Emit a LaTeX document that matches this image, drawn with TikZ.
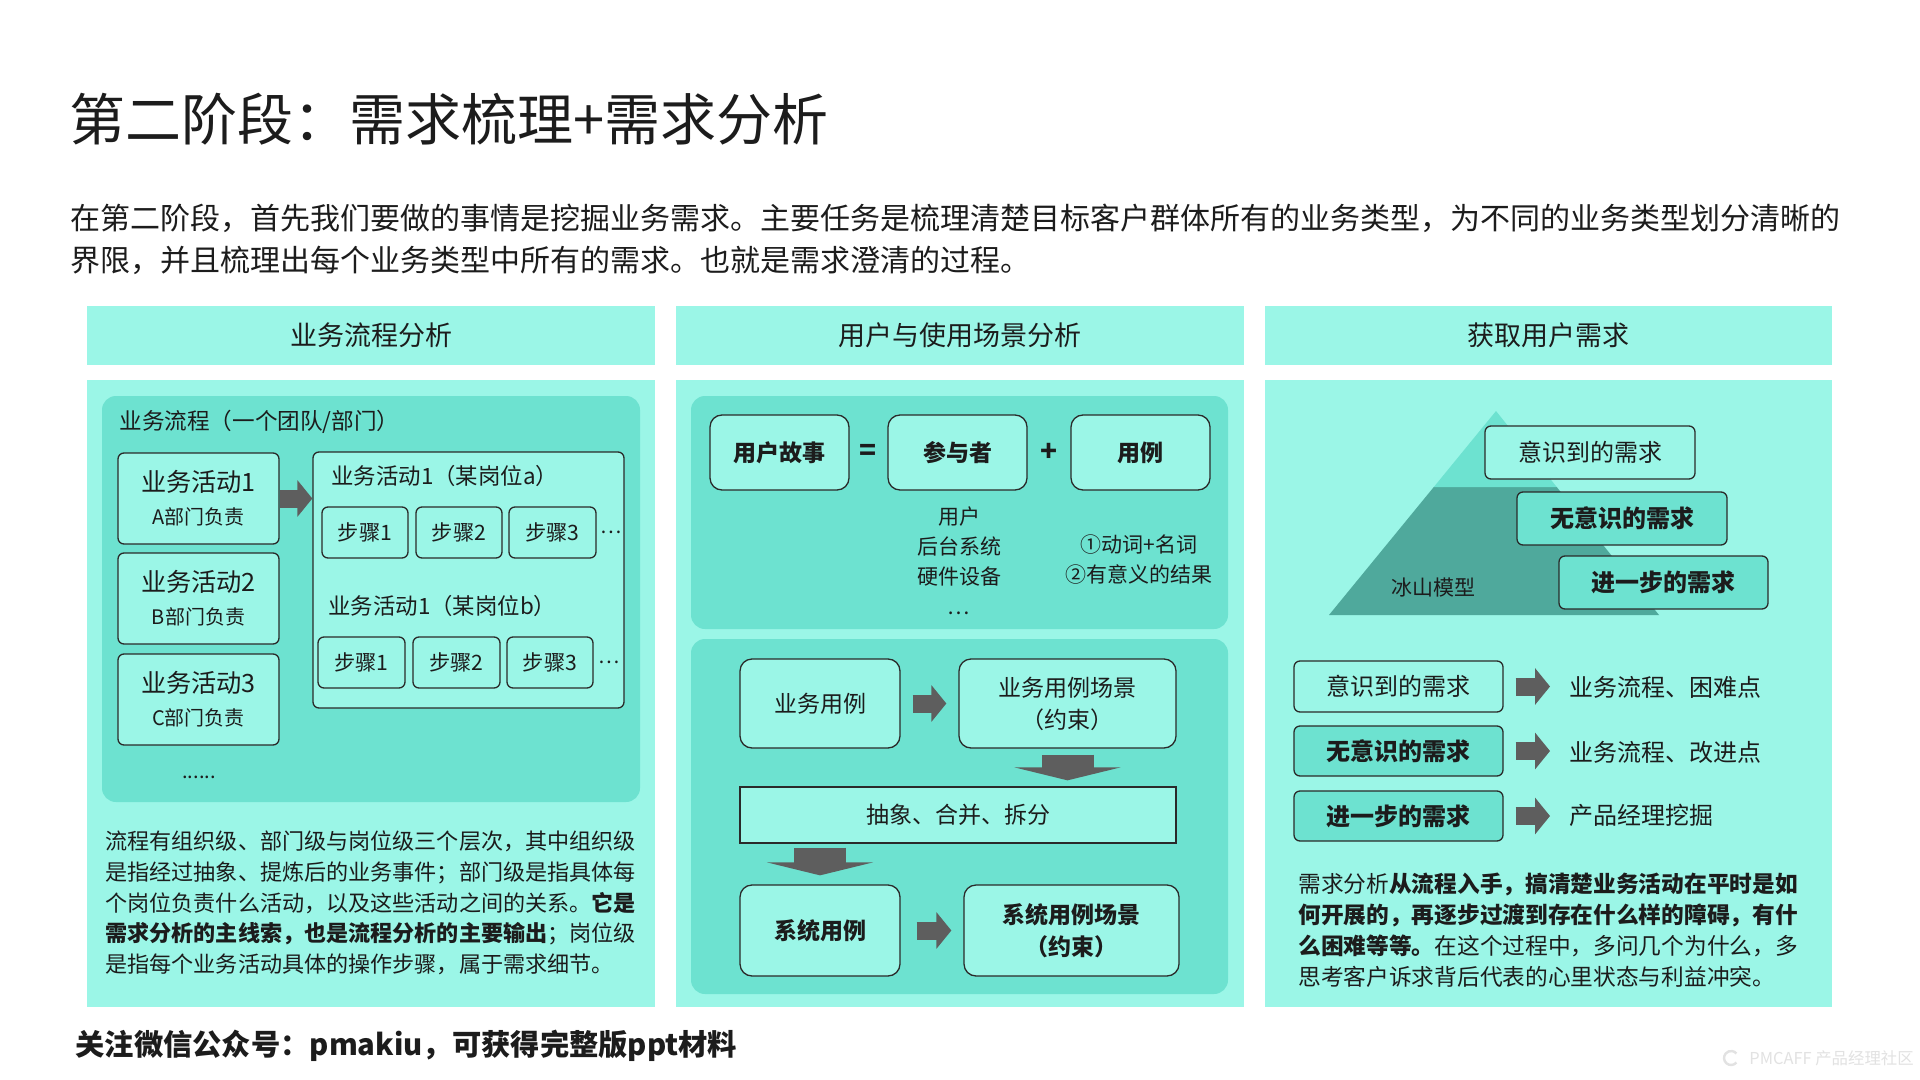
\documentclass[tikz,border=0pt]{standalone}
\usepackage{fontspec}
\setmainfont{Noto Sans CJK SC}
\usetikzlibrary{arrows.meta}
\definecolor{lt}{HTML}{9BF6E7}
\definecolor{md}{HTML}{6DE2D0}
\definecolor{dk}{HTML}{4FA99C}
\definecolor{ag}{HTML}{5E5E5E}
\definecolor{bd}{HTML}{2A2A2A}
\definecolor{txt}{HTML}{1C1C1C}
\definecolor{wmc}{HTML}{E2E2E2}
\newcommand\fz[2]{\fontsize{#1}{#2}\selectfont}
\tikzset{
  every node/.style={text=txt, inner sep=0pt},
  hdr/.style={fill=lt, font=\fz{13.5}{16}},
  panel/.style={fill=lt},
  innerp/.style={fill=md, rounded corners=7pt},
  rbox/.style={draw=bd, line width=0.65pt, rounded corners=3pt, fill=lt, align=center},
  sbox/.style={draw=bd, line width=0.65pt, rounded corners=6pt, fill=lt, align=center},
  harrow/.style={draw=ag, line width=9pt, -{Triangle[width=18pt,length=7.5pt]}},
  varrow/.style={draw=ag, line width=26pt, -{Triangle[width=53pt,length=6.5pt]}},
}
\begin{document}
\begin{tikzpicture}[x=0.5pt,y=-0.5pt]
\useasboundingbox (0,0) rectangle (1920,1080);
\fill[white] (0,0) rectangle (1920,1080);

% title and intro
\node[anchor=west, font=\fz{28}{34}] (title) at (69,119) {第二阶段：需求梳理+需求分析};
\node[anchor=west, align=left, font=\fz{15}{21}] (intro) at (70,239)
  {在第二阶段，首先我们要做的事情是挖掘业务需求。主要任务是梳理清楚目标客户群体所有的业务类型，为不同的业务类型划分清晰的\\
   界限，并且梳理出每个业务类型中所有的需求。也就是需求澄清的过程。};

% headers
\node[hdr, minimum width=284pt, minimum height=29.5pt] (h1) at (371,335.5) {业务流程分析};
\node[hdr, minimum width=284pt, minimum height=29.5pt] (h2) at (960,335.5) {用户与使用场景分析};
\node[hdr, minimum width=283.5pt, minimum height=29.5pt] (h3) at (1548.5,335.5) {获取用户需求};

% body panels
\node[panel, minimum width=284pt, minimum height=313.5pt] (b1) at (371,693.5) {};
\node[panel, minimum width=284pt, minimum height=313.5pt] (b2) at (960,693.5) {};
\node[panel, minimum width=283.5pt, minimum height=313.5pt] (b3) at (1548.5,693.5) {};

% ---------- column 1 ----------
\node[innerp, minimum width=269pt, minimum height=203pt] (i1) at (371,599) {};
\node[anchor=west, font=\fz{11.3}{14}] (l1) at (119,422) {业务流程（一个团队/部门）};
\node[rbox, minimum width=80.5pt, minimum height=45.5pt, font=\fz{12.6}{16.5}] (a1) at (198.5,498.5)
  {业务活动1\\{\fz{10}{16.5}A部门负责}};
\node[rbox, minimum width=80.5pt, minimum height=45.5pt, font=\fz{12.6}{16.5}] (a2) at (198.5,598.5)
  {业务活动2\\{\fz{10}{16.5}B部门负责}};
\node[rbox, minimum width=80.5pt, minimum height=45.5pt, font=\fz{12.6}{16.5}] (a3) at (198.5,699.5)
  {业务活动3\\{\fz{10}{16.5}C部门负责}};
\node[rbox, minimum width=155.5pt, minimum height=128pt] (big) at (468.5,580) {};
\draw[harrow] (a1.east) -- (big.west |- a1.east);
\node[anchor=west, font=\fz{11.2}{14}] (la) at (331,476) {业务活动1（某岗位a）};
\node[rbox, minimum width=43pt, minimum height=25.5pt, font=\fz{10.6}{13}] (sa1) at (365,532.5) {步骤1};
\node[rbox, minimum width=43pt, minimum height=25.5pt, font=\fz{10.6}{13}] (sa2) at (459,532.5) {步骤2};
\node[rbox, minimum width=43.5pt, minimum height=25.5pt, font=\fz{10.6}{13}] (sa3) at (552.5,532.5) {步骤3};
\node[anchor=west, font=\fz{10}{12}] (da) at (600,532.5) {…};
\node[anchor=west, font=\fz{11.2}{14}] (lb) at (328,606) {业务活动1（某岗位b）};
\node[rbox, minimum width=43.5pt, minimum height=25.5pt, font=\fz{10.6}{13}] (sb1) at (361.5,662.5) {步骤1};
\node[rbox, minimum width=43.5pt, minimum height=25.5pt, font=\fz{10.6}{13}] (sb2) at (456.5,662.5) {步骤2};
\node[rbox, minimum width=43pt, minimum height=25.5pt, font=\fz{10.6}{13}] (sb3) at (550,662.5) {步骤3};
\node[anchor=west, font=\fz{10}{12}] (db) at (598,662.5) {…};
\node[font=\fz{10}{12}] (dots1) at (199,777) {......};
\node[anchor=west, align=left, font=\fz{11.05}{15.3}] (p1) at (105,903)
  {流程有组织级、部门级与岗位级三个层次，其中组织级\\
   是指经过抽象、提炼后的业务事件；部门级是指具体每\\
   个岗位负责什么活动，以及这些活动之间的关系。{\bfseries 它是}\\
   {\bfseries 需求分析的主线索，也是流程分析的主要输出}；岗位级\\
   是指每个业务活动具体的操作步骤，属于需求细节。};

% ---------- column 2 ----------
\node[innerp, minimum width=268.5pt, minimum height=116.5pt] (u2) at (959.5,512.5) {};
\node[innerp, minimum width=268.5pt, minimum height=177.5pt] (l2) at (959.5,816.5) {};
\node[sbox, minimum width=69.5pt, minimum height=37.5pt, font=\fz{11.5}{14}\bfseries] (story) at (779.5,452.5) {用户故事};
\node[sbox, minimum width=69.5pt, minimum height=37.5pt, font=\fz{11.5}{14}\bfseries] (actor) at (957.5,452.5) {参与者};
\node[sbox, minimum width=69.5pt, minimum height=37.5pt, font=\fz{11.5}{14}\bfseries] (uc) at (1140.5,452.5) {用例};
\node[font=\fz{14}{16}\bfseries] (eq) at (868,452.5) {=};
\node[font=\fz{14}{16}\bfseries] (plus) at (1049,452.5) {+};
\node[align=center, font=\fz{10.5}{15}] (actn) at (959,561) {用户\\后台系统\\硬件设备\\…};
\node[align=center, font=\fz{10.5}{15}] (ucn) at (1139,560) {①动词+名词\\②有意义的结果};

\node[sbox, minimum width=80pt, minimum height=44.5pt, font=\fz{11.5}{16}] (bizuc) at (820,703.5) {业务用例};
\node[sbox, minimum width=108.5pt, minimum height=44.5pt, font=\fz{11.5}{16}] (bizsc) at (1067.5,703.5) {业务用例场景\\（约束）};
\draw[harrow] ([xshift=6pt]bizuc.east) -- ([xshift=-6pt]bizsc.west);
\node[draw=bd, line width=0.65pt, fill=lt, minimum width=218pt, minimum height=28pt, font=\fz{11.5}{14}] (abs) at (958,815) {抽象、合并、拆分};
\draw[varrow] ([yshift=-3pt]bizsc.south) -- ([yshift=3pt]abs.north -| bizsc.south);
\node[sbox, minimum width=80pt, minimum height=45.5pt, font=\fz{11.5}{16}\bfseries] (sysuc) at (820,930.5) {系统用例};
\node[sbox, minimum width=107.5pt, minimum height=45.5pt, font=\fz{11.5}{16}\bfseries] (syssc) at (1071.5,930.5) {系统用例场景\\（约束）};
\draw[varrow] ([yshift=-2pt]abs.south -| sysuc.north) -- ([yshift=4.5pt]sysuc.north);
\draw[harrow] ([xshift=8pt]sysuc.east) -- ([xshift=-6pt]syssc.west);

% ---------- column 3 ----------
\fill[dk] (1433.8,487) -- (1556.7,487) -- (1659,615) -- (1329,615) -- cycle;
\fill[md] (1496,411) -- (1556.7,487) -- (1433.8,487) -- cycle;
\node[font=\fz{10.5}{13}] (ice) at (1433,588) {冰山模型};
\node[rbox, minimum width=105pt, minimum height=26.5pt, font=\fz{12}{14}] (aw1) at (1590,452.5) {意识到的需求};
\node[rbox, fill=md, minimum width=105pt, minimum height=26.5pt, font=\fz{12}{14}\bfseries] (un1) at (1622,518.5) {无意识的需求};
\node[rbox, fill=md, minimum width=104.5pt, minimum height=26.5pt, font=\fz{12}{14}\bfseries] (fu1) at (1663.5,582.5) {进一步的需求};

\node[rbox, minimum width=104.5pt, minimum height=25.5pt, font=\fz{12}{14}] (aw2) at (1398.5,686.5) {意识到的需求};
\node[rbox, fill=md, minimum width=104.5pt, minimum height=25pt, font=\fz{12}{14}\bfseries] (un2) at (1398.5,751) {无意识的需求};
\node[rbox, fill=md, minimum width=104.5pt, minimum height=25pt, font=\fz{12}{14}\bfseries] (fu2) at (1398.5,816) {进一步的需求};
\node[anchor=west, font=\fz{12}{14}] (r1) at (1569,687) {业务流程、困难点};
\node[anchor=west, font=\fz{12}{14}] (r2) at (1569,752) {业务流程、改进点};
\node[anchor=west, font=\fz{12}{14}] (r3) at (1569,815) {产品经理挖掘};
\draw[harrow] ([xshift=6pt]aw2.east) -- ([xshift=-9.5pt]r1.west |- aw2.east);
\draw[harrow] ([xshift=6pt]un2.east) -- ([xshift=-9.5pt]r2.west |- un2.east);
\draw[harrow] ([xshift=6pt]fu2.east) -- ([xshift=-9.5pt]r3.west |- fu2.east);
\node[anchor=west, align=left, font=\fz{11.35}{15.5}] (p3) at (1298,930.5)
  {需求分析{\bfseries 从流程入手，搞清楚业务活动在平时是如}\\
   {\bfseries 何开展的，再逐步过渡到存在什么样的障碍，有什}\\
   {\bfseries 么困难等等。}在这个过程中，多问几个为什么，多\\
   思考客户诉求背后代表的心里状态与利益冲突。};

% footer
\node[anchor=west, font=\fz{14.65}{17}\bfseries] (foot) at (75,1046) {关注微信公众号：pmakiu，可获得完整版ppt材料};
\draw[wmc, line width=1.2pt] (1736.4,1062.5) arc[start angle=40, end angle=320, radius=7];
\node[anchor=west, text=wmc, font=\fz{8.2}{10}] (wm) at (1749,1058) {PMCAFF 产品经理社区};
\end{tikzpicture}
\end{document}
